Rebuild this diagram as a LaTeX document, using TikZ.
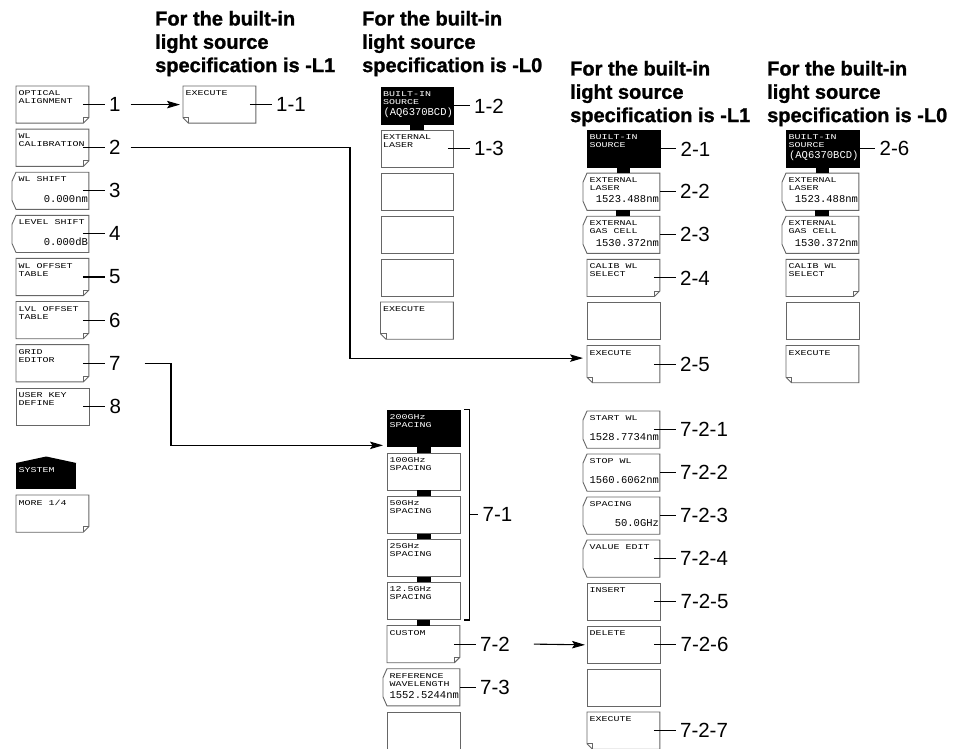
\documentclass[tikz,border=0pt]{standalone}
\usepackage{fontspec}
\setmainfont{Liberation Sans}
\newfontfamily\af{Liberation Sans}
\newfontfamily\hf{Liberation Sans Bold}[FakeBold=1.2]
\newfontfamily\kf[FakeStretch=1.35]{Liberation Mono}
\newfontfamily\kvf{Liberation Mono}
\usetikzlibrary{arrows.meta,calc}
\definecolor{kgray}{gray}{0.4}
\tikzset{
  keyline/.style={draw=kgray, line width=0.9pt},
  key/.style={rectangle, minimum width=72.5pt, minimum height=36.8pt, inner sep=0pt, anchor=north west},
  plain/.style={key, keyline},
  blk/.style={key, fill=black, draw=black, line width=0.9pt},
  ktext/.style={anchor=north west, inner sep=0pt, xshift=2.5pt, yshift=-4.5pt, align=left, font=\kf\fontsize{7.4}{8}\selectfont},
  nm/.style={label={[ktext]north west:{#1}}},
  wnm/.style={label={[ktext,text=white]north west:{#1}}},
  kval/.style={anchor=south east, inner sep=0pt, xshift=-0.8pt, yshift=7pt, font=\kvf\fontsize{10.5}{12}\selectfont},
  val/.style={label={[kval]south east:{#1}}},
  wval/.style={label={[kval,text=white]south east:{#1}}},
  num/.style={anchor=west, inner xsep=4pt, inner ysep=0pt, font=\af\fontsize{20.5}{22}\selectfont},
  lead/.style={draw=black, line width=1.1pt},
  conn/.style={draw=black, line width=1.1pt, -{Stealth[length=13pt,width=7.5pt,inset=2.5pt]}},
  hdr/.style={anchor=north west, inner sep=0pt, align=left, font=\hf\fontsize{20}{23.3}\selectfont},
  bar/.style={fill=black},
}
\begin{document}
\begin{tikzpicture}[x=1pt,y=-1pt]
\useasboundingbox (0,0) rectangle (955,749);

% headers
\node[hdr] (h1) at (155,10.8) {For the built-in\\light source\\specification is -L1};
\node[hdr] (h2) at (362,10.8) {For the built-in\\light source\\specification is -L0};
\node[hdr] (h3) at (570,60.8) {For the built-in\\light source\\specification is -L1};
\node[hdr] (h4) at (767,60.8) {For the built-in\\light source\\specification is -L0};

% column A
\node[key, nm={OPTICAL\\ALIGNMENT}] (k1) at (16,86) {};
\node[key, nm={WL\\CALIBRATION}] (k2) at (16,129.1) {};
\node[key, nm={WL SHIFT}, val={0.000nm}] (k3) at (16,172.2) {};
\node[key, nm={LEVEL SHIFT}, val={0.000dB}] (k4) at (16,215.3) {};
\node[key, nm={WL OFFSET\\TABLE}] (k5) at (16,258.4) {};
\node[key, nm={LVL OFFSET\\TABLE}] (k6) at (16,301.5) {};
\node[key, nm={GRID\\EDITOR}] (k7) at (16,344.6) {};
\node[plain, nm={USER KEY\\DEFINE}] (k8) at (16,387.7) {};
\node[key, minimum width=60pt, minimum height=26pt, fill=black, wnm={SYSTEM}] (sys) at (16,463) {};
\fill (sys.north west) -- ([yshift=6.5pt]sys.north) -- (sys.north east) -- cycle;
\node[key, nm={MORE 1/4}] (more) at (16,495) {};

% 1-1
\node[key, nm={EXECUTE}] (k11) at (183,86) {};

% column B top
\node[blk, wnm={BUILT-IN\\SOURCE}, wval={(AQ6370BCD)}] (b1) at (380.5,87) {};
\node[plain, nm={EXTERNAL\\LASER}] (b2) at (380.5,130) {};
\node[plain] (b3) at (380.5,173) {};
\node[plain] (b4) at (380.5,216) {};
\node[plain] (b5) at (380.5,259) {};
\node[key, nm={EXECUTE}] (b6) at (380.5,302) {};

% column B lower
\node[blk, wnm={200GHz\\SPACING}] (g1) at (387,409.5) {};
\node[plain, nm={100GHz\\SPACING}] (g2) at (387,452.7) {};
\node[plain, nm={50GHz\\SPACING}] (g3) at (387,495.9) {};
\node[plain, nm={25GHz\\SPACING}] (g4) at (387,539.1) {};
\node[plain, nm={12.5GHz\\SPACING}] (g5) at (387,582.3) {};
\node[key, nm={CUSTOM}] (g6) at (387,625.5) {};
\node[key, nm={REFERENCE\\WAVELENGTH}, val={1552.5244nm}] (g7) at (387,668.7) {};
\node[plain] (g8) at (387,711.9) {};

% column C
\node[blk, wnm={BUILT-IN\\SOURCE}] (c1) at (587,130) {};
\node[key, nm={EXTERNAL\\LASER}, val={1523.488nm}] (c2) at (587,173.1) {};
\node[key, nm={EXTERNAL\\GAS CELL}, val={1530.372nm}] (c3) at (587,216.2) {};
\node[key, nm={CALIB WL\\SELECT}] (c4) at (587,259.3) {};
\node[plain] (c5) at (587,302.4) {};
\node[key, nm={EXECUTE}] (c6) at (587,345.5) {};
\node[key, nm={START WL}, val={1528.7734nm}] (s1) at (587,411) {};
\node[key, nm={STOP WL}, val={1560.6062nm}] (s2) at (587,454) {};
\node[key, nm={SPACING}, val={50.0GHz}] (s3) at (587,497) {};
\node[key, nm={VALUE EDIT}] (s4) at (587,540) {};
\node[plain, nm={INSERT}] (s5) at (587,583) {};
\node[plain, nm={DELETE}] (s6) at (587,626) {};
\node[plain] (s7) at (587,669) {};
\node[key, nm={EXECUTE}] (s8) at (587,712) {};

% column D
\node[blk, wnm={BUILT-IN\\SOURCE}, wval={(AQ6370BCD)}] (d1) at (786,130) {};
\node[key, nm={EXTERNAL\\LASER}, val={1523.488nm}] (d2) at (786,173.1) {};
\node[key, nm={EXTERNAL\\GAS CELL}, val={1530.372nm}] (d3) at (786,216.2) {};
\node[key, nm={CALIB WL\\SELECT}] (d4) at (786,259.3) {};
\node[plain] (d5) at (786,302.4) {};
\node[key, nm={EXECUTE}] (d6) at (786,345.5) {};

% key outlines: dog-ear bottom right
\foreach \n in {k1,k2,k5,k6,k7,more,g6,c4,d4} {
  \draw[keyline] (\n.north west) -- (\n.north east) -- ([yshift=5.5pt]\n.south east) -- ([xshift=-5.5pt]\n.south east) -- (\n.south west) -- cycle;
  \draw[keyline] ([xshift=-5.5pt]\n.south east) -- ([xshift=-5.5pt,yshift=5.5pt]\n.south east) -- ([yshift=5.5pt]\n.south east);
}
% dog-ear bottom left
\foreach \n in {k11,b6,c6,d6,s8} {
  \draw[keyline] (\n.north west) -- (\n.north east) -- (\n.south east) -- ([xshift=5.5pt]\n.south west) -- ([yshift=5.5pt]\n.south west) -- cycle;
  \draw[keyline] ([xshift=5.5pt]\n.south west) -- ([xshift=5.5pt,yshift=5.5pt]\n.south west) -- ([yshift=5.5pt]\n.south west);
}
% value keys with pointed left side
\foreach \n in {k3,k4,g7,c2,c3,d2,d3,s1,s2,s3,s4} {
  \draw[keyline] (\n.north west) -- (\n.north east) -- (\n.south east) -- (\n.south west) -- ([xshift=-4pt,yshift=9pt]\n.south west) -- ([xshift=-4pt,yshift=-9pt]\n.north west) -- cycle;
}

% link bars
\foreach \a/\b in {b1/b2,c1/c2,c2/c3,d1/d2,d2/d3,g1/g2,g2/g3,g3/g4,g4/g5,g5/g6} {
  \fill[bar] ([xshift=-7pt]\a.south) rectangle ([xshift=7pt]\b.north);
}

% number labels and leaders
\foreach \k/\t/\o/\s in {k1/1/-6/1,k2/2/-6/2,k3/3/-6/3,k4/4/-6/4,k5/5/-6/5,k6/6/-6/6,k7/7/-6/7,k8/8/-6/8,
    k11/11/-6/1-1,b1/12/0/1-2,b2/13/-6/1-3,
    c1/21/0/2-1,c2/22/0/2-2,c3/23/0/2-3,c4/24/-6/2-4,c6/25/-6/2-5,d1/26/0/2-6,
    s1/721/-6/7-2-1,s2/722/0/7-2-2,s3/723/0/7-2-3,s4/724/-6/7-2-4,s5/725/-6/7-2-5,s6/726/-6/7-2-6,s8/727/-6/7-2-7,
    g6/72/-6/7-2,g7/73/0/7-3} {
  \node[num] (l\t) at ([xshift=16pt]\k.east) {\s};
  \draw[lead] ([xshift=\o pt]\k.east) -- (l\t.west);
}

% bracket 7-1
\coordinate (brt) at ([xshift=9pt]g1.north east);
\coordinate (brb) at ([xshift=9pt]g5.south east);
\draw[lead] ([xshift=-5pt]brt) -- (brt) -- (brb) -- ([xshift=-5pt]brb);
\coordinate (brm) at ($(brt)!0.5!(brb)$);
\node[num] (l71) at ([xshift=9pt]brm) {7-1};
\draw[lead] (brm) -- (l71.west);

% connectors
\coordinate (v2) at (350,0);
\coordinate (v7) at (171,0);
\draw[conn] ([xshift=6pt]l1.east) -- ([xshift=-3pt]k11.west);
\draw[conn] ([xshift=6pt]l2.east) -- (l2.east -| v2) |- ([xshift=-4pt,yshift=6pt]c6.west);
\draw[conn] ([xshift=20pt]l7.east) -- (l7.east -| v7) |- ([xshift=-4pt,yshift=-17pt]g1.west);
\draw[conn] ([xshift=20pt]l72.east) -- ([xshift=-2pt]s6.west);
\end{tikzpicture}
\end{document}
